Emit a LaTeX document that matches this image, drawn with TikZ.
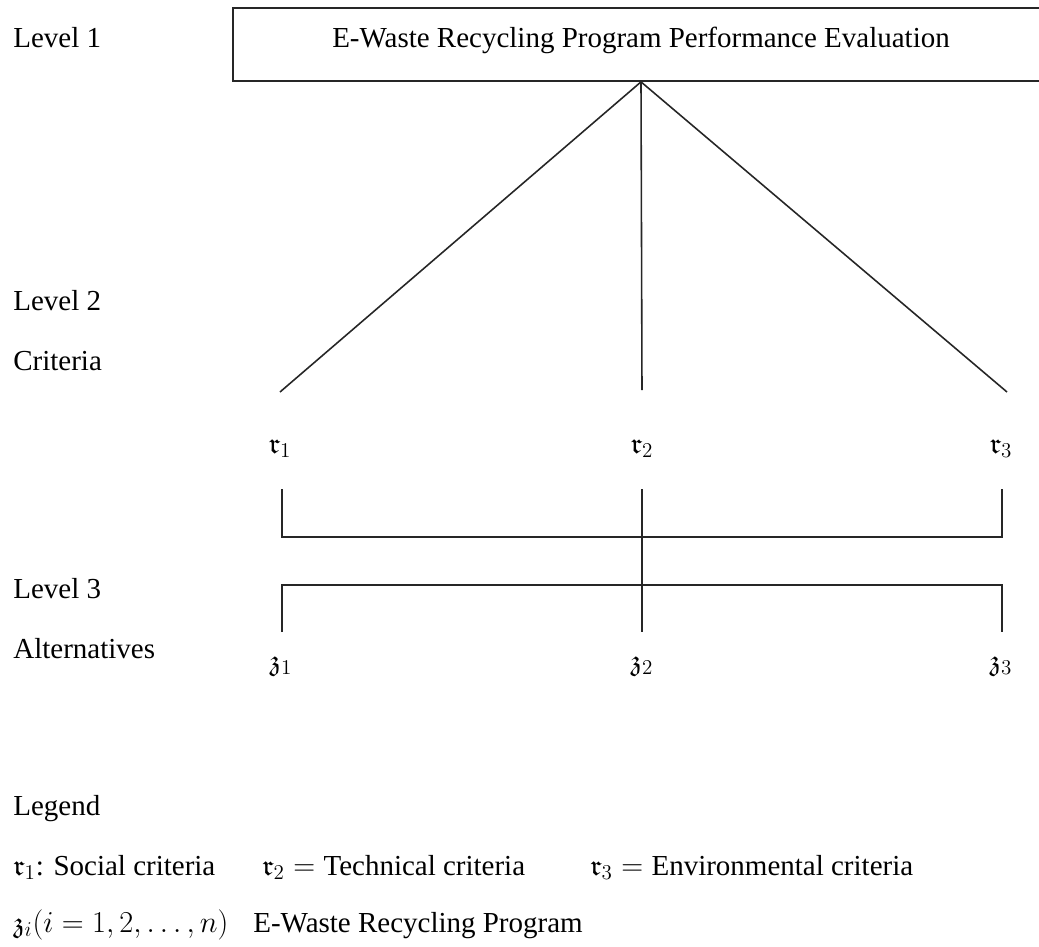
\documentclass[tikz,border=0pt]{standalone}
\usepackage{amsmath}
\usepackage{amssymb}
\usepackage{fontspec}
\setmainfont{Liberation Serif}
\usepackage{tikz}
\usetikzlibrary{positioning}
\tikzset{
  goal/.style={rectangle,draw=black!85,line width=1pt,minimum width=16.32cm,
    minimum height=1.46cm,inner sep=0pt},
  lnk/.style={draw=black!85,line width=.9pt},
  lv/.style={anchor=base west,inner sep=0pt},
  sym/.style={anchor=base,inner sep=0pt},
  lg/.style={anchor=base west,inner sep=0pt},
}

\begin{document}
\begin{tikzpicture}[x=0.02cm,y=-0.02cm,font=\fontsize{16.5}{20}\selectfont]
\useasboundingbox (0,0) rectangle (1039,947);
% level labels down the left margin
\node[lv] (lv1) at (13,47) {Level 1};
\node[lv] (lv2) at (13,310) {Level 2};
\node[lv] (lv2t) at (13,370) {Criteria};
\node[lv] (lv3) at (13,598) {Level 3};
\node[lv] (lv3t) at (13,658) {Alternatives};

% goal box, its right side runs off the page
\node[goal] (top) at (641,44.5) {};
\node[anchor=base,inner sep=0pt] (topt) at (641,47)
  {E-Waste Recycling Program Performance Evaluation};

% criteria
\coordinate (e1) at (280,392); \coordinate (e2) at (642,390);
\coordinate (e3) at (1007,392);
\draw[lnk] (top.south) -- (e1) (top.south) -- (e2) (top.south) -- (e3);
\node[sym] (r1) at (280,453) {$\mathfrak{r}_1$};
\node[sym] (r2) at (642,453) {$\mathfrak{r}_2$};
\node[sym] (r3) at (1001,453) {$\mathfrak{r}_3$};

% every criterion feeds every alternative
\coordinate (u1) at (282,489); \coordinate (u2) at (642,489);
\coordinate (u3) at (1002,489);
\coordinate (m) at (642,537); \coordinate (n) at (642,585);
\coordinate (v1) at (282,632); \coordinate (v2) at (642,632);
\coordinate (v3) at (1002,632);
\draw[lnk] (u1) |- (m) -| (u3);
\draw[lnk] (u2) -- (v2);
\draw[lnk] (v1) |- (n) -| (v3);
\node[sym] (z1) at (281,670) {$\mathfrak{z}_1$};
\node[sym] (z2) at (642,670) {$\mathfrak{z}_2$};
\node[sym] (z3) at (1001,670) {$\mathfrak{z}_3$};

% legend
\node[lg] (leg) at (13,815) {Legend};
\node[lg] (leg1) at (13,875) {$\mathfrak{r}_1$: Social criteria};
\node[lg] (leg2) at (262,875) {$\mathfrak{r}_2 = {}$Technical criteria};
\node[lg] (leg3) at (590,875) {$\mathfrak{r}_3 = {}$Environmental criteria};
\node[lg] (leg4) at (13,932) {$\mathfrak{z}_i(i = 1, 2, \dots, n)$};
\node[lg] (leg5) at (253,932) {E-Waste Recycling Program};
\end{tikzpicture}
\end{document}
